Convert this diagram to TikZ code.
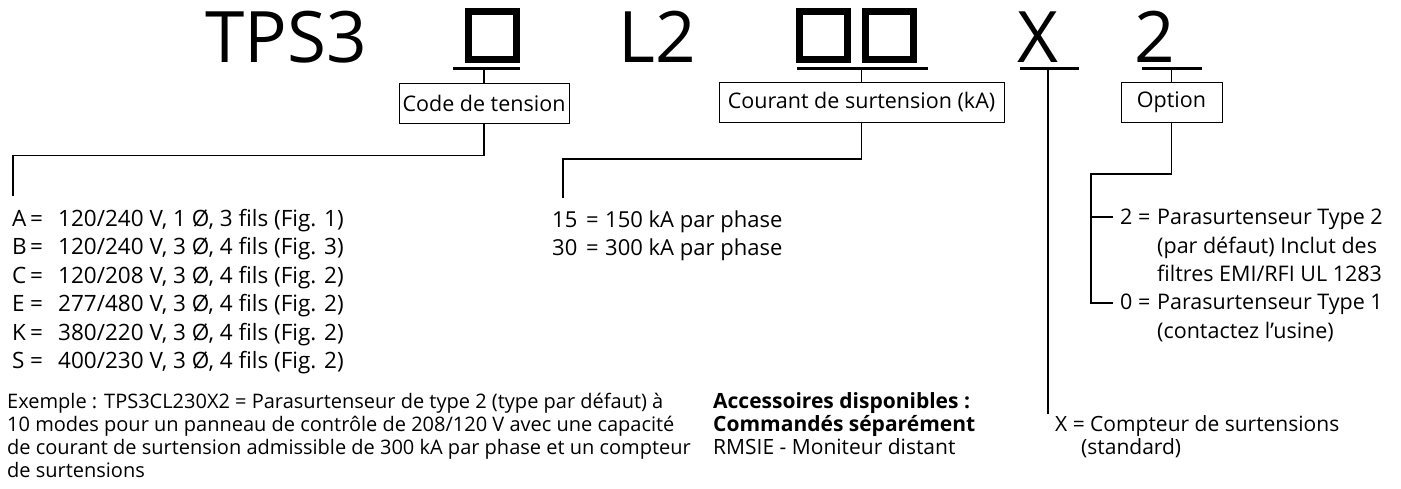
\documentclass[tikz,border=0pt]{standalone}
\usepackage{fontspec}
\setmainfont{Open Sans}
\begin{document}
\begin{tikzpicture}[x=1pt, y=-1pt,
  code/.style={font=\fontsize{71}{71}\selectfont, inner sep=0, anchor=base},
  slot/.style={draw, line width=7pt, minimum size=48pt, inner sep=0, outer sep=0},
  uline/.style={line width=3pt},
  box/.style={draw, line width=0.9pt, minimum height=40pt, inner sep=0, font=\fontsize{21.5}{21.5}\selectfont},
  link/.style={line width=1.1pt},
  lst/.style={align=left, inner sep=0, anchor=base west, font=\fontsize{22.5}{28.5}\selectfont},
  note/.style={align=left, inner sep=0, anchor=base west, font=\fontsize{20}{23}\selectfont}
]
  \useasboundingbox (0,0) rectangle (1401,488);

  % Catalogue number (top row)
  \node[code] (tps) at (286,62) {TPS3};
  \node[slot] (v1) at (492.5,35.5) {};
  \node[code] (l2) at (657.5,62) {L2};
  \node[slot] (k1) at (823,35) {};
  \node[slot] (k2) at (889,35) {};
  \node[code] (xc) at (1037.5,62) {X};
  \node[code] (two) at (1155,62) {2};

  % Underlines below the positions
  \coordinate (u1w) at (453,68);  \coordinate (u1e) at (520,68);
  \coordinate (u2w) at (797,68);  \coordinate (u2e) at (928,68);
  \coordinate (u3w) at (1020,68); \coordinate (u3e) at (1079,68);
  \coordinate (u4w) at (1142,68); \coordinate (u4e) at (1202,68);
  \foreach \u in {1,...,4}
    \draw[uline] (u\u w) -- (u\u e);

  % Field labels
  \node[box, minimum width=170pt] (volt) at (484,103) {Code de tension};
  \node[box, minimum width=285pt] (amp) at (861.5,102.5) {Courant de surtension (kA)};
  \node[box, minimum width=101pt] (opt) at (1171.5,102.5) {Option};

  \draw[link] (volt.north) -- (volt.north |- u1w);
  \draw[link] (amp.north) -- (amp.north |- u2w);
  \draw[link] (opt.north) -- (opt.north |- u4w);

  % Voltage codes
  \coordinate (tA) at (13,196);
  \draw[link] (volt.south) -- ++(0,32) -| (tA);
  \node[lst] (vlist) at (12,368.5) {%
    \makebox[18pt][l]{A}\makebox[28pt][l]{=}120/240 V, 1 Ø, 3 fils (Fig. 1)\\
    \makebox[18pt][l]{B}\makebox[28pt][l]{=}120/240 V, 3 Ø, 4 fils (Fig. 3)\\
    \makebox[18pt][l]{C}\makebox[28pt][l]{=}120/208 V, 3 Ø, 4 fils (Fig. 2)\\
    \makebox[18pt][l]{E}\makebox[28pt][l]{=}277/480 V, 3 Ø, 4 fils (Fig. 2)\\
    \makebox[18pt][l]{K}\makebox[28pt][l]{=}380/220 V, 3 Ø, 4 fils (Fig. 2)\\
    \makebox[18pt][l]{S}\makebox[28pt][l]{=}400/230 V, 3 Ø, 4 fils (Fig. 2)};

  % Surge current codes
  \coordinate (t15) at (563,198);
  \draw[link] (amp.south) -- ++(0,36) -| (t15);
  \node[lst, font=\fontsize{22}{28.5}\selectfont] (alist) at (552,255.5) {%
    \makebox[34pt][l]{15}\makebox[19pt][l]{=}150 kA par phase\\
    \makebox[34pt][l]{30}\makebox[19pt][l]{=}300 kA par phase};

  % Option codes
  \coordinate (spine) at (1091,174);
  \coordinate (o2) at (1113,217);
  \coordinate (o0) at (1113,303);
  \draw[link] (opt.south) |- (spine) |- (o0);
  \draw[link] (o2 -| spine) -- (o2);
  \node[lst, font=\fontsize{21.5}{28.3}\selectfont] (olist) at (1120,338) {%
    \makebox[37pt][l]{2 =}Parasurtenseur Type 2\\
    \hspace*{37pt}(par défaut) Inclut des\\
    \hspace*{37pt}filtres EMI/RFI UL 1283\\
    \makebox[37pt][l]{0 =}Parasurtenseur Type 1\\
    \hspace*{37pt}(contactez l’usine)};

  % Surge counter
  \coordinate (xend) at (1048,414);
  \draw[link] (xend |- u3w) -- (xend);
  \node[note, font=\fontsize{21}{23}\selectfont] (xtxt) at (1055,454) {%
    X = Compteur de surtensions\\
    \hspace*{26pt}(standard)};

  % Example and accessories (bottom)
  \node[note] (ex) at (7,477) {%
    Exemple : TPS3CL230X2 = Parasurtenseur de type 2 (type par défaut) à\\
    10 modes pour un panneau de contrôle de 208/120 V avec une capacité\\
    de courant de surtension admissible de 300 kA par phase et un compteur\\
    de surtensions};
  \node[note, font=\fontsize{21}{23}\selectfont] (acc) at (713,454) {%
    \textbf{Accessoires disponibles :}\\
    \textbf{Commandés séparément}\\
    RMSIE - Moniteur distant};
\end{tikzpicture}
\end{document}
